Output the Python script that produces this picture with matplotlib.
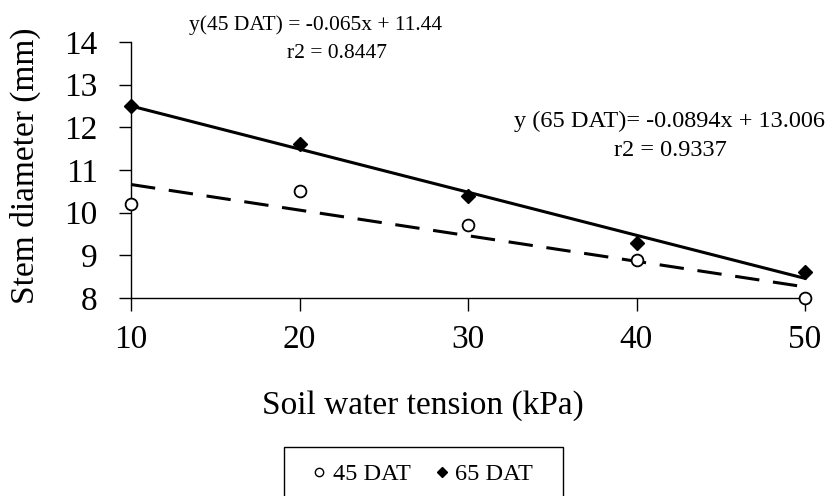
import numpy as np
import matplotlib.pyplot as plt
from matplotlib.lines import Line2D
from matplotlib.patches import Rectangle

plt.rcParams['font.family'] = ['Liberation Serif', 'DejaVu Serif']

# Data
tension = [10, 20, 30, 40, 50]
dat45 = [10.2, 10.5, 9.7, 8.9, 8.0]
dat65 = [12.5, 11.6, 10.4, 9.3, 8.6]

eq45 = "y(45 DAT) = -0.065x + 11.44"
r45 = "r2 = 0.8447"
eq65 = "y (65 DAT)= -0.0894x + 13.006"
r65 = "r2 = 0.9337"

W, H = 834, 496
fig = plt.figure(figsize=(W / 100, H / 100), dpi=100)
ax = fig.add_axes([131 / W, 1 - 298 / H, 674 / W, 256 / H])

x = np.array(tension)
# linear trend lines fitted to each series
p45 = np.polyfit(x, dat45, 1)
p65 = np.polyfit(x, dat65, 1)
xl = np.array([10, 50])
ax.plot(xl, np.polyval(p65, xl), color='black', lw=2.2, zorder=2, clip_on=False)
ax.plot(xl, np.polyval(p45, xl), color='black', lw=2.2, ls=(0, (8, 4.5)), zorder=2, clip_on=False)

ax.plot(x, dat45, ls='none', marker='o', ms=8.5, mfc='white', mec='black', mew=1.3,
        zorder=3, clip_on=False)
ax.plot(x, dat65, ls='none', marker='D', ms=7, mfc='black', mec='black', zorder=3,
        clip_on=False)

ax.set_xlim(10, 50)
ax.set_ylim(8, 14)
ax.set_xticks([10, 20, 30, 40, 50])
ax.set_yticks(range(8, 15))
for s in ['top', 'right']:
    ax.spines[s].set_visible(False)
ax.spines['left'].set_linewidth(1.0)
ax.spines['bottom'].set_linewidth(1.0)
ax.tick_params(axis='both', direction='out', length=9, width=1.0)
ax.tick_params(axis='y', labelsize=24, pad=15)
ax.tick_params(axis='x', labelsize=24, pad=10)

ax.set_ylabel('Stem diameter (mm)', fontsize=24, va='center')
ax.yaxis.set_label_coords((25 - 131) / 674, (298 - 166) / 256)
ax.set_xlabel('Soil water tension (kPa)', fontsize=24, va='center')
ax.xaxis.set_label_coords((423 - 131) / 674, (298 - 406) / 256)

fig.text(316 / W, 1 - 25 / H, eq45, ha='center', va='center', fontsize=15.5)
fig.text(337 / W, 1 - 54 / H, r45, ha='center', va='center', fontsize=15.5)
fig.text(669 / W, 1 - 121 / H, eq65, ha='center', va='center', fontsize=17.5)
fig.text(670 / W, 1 - 151 / H, r65, ha='center', va='center', fontsize=17.5)

# legend box (open at the bottom edge of the image)
fig.patches.append(Rectangle((284 / W, -0.02), (563 - 284) / W, 0.02 + 49 / H,
                             transform=fig.transFigure, fill=False, edgecolor='black',
                             lw=1.0))
handles = [
    Line2D([], [], ls='none', marker='o', ms=6, mfc='white', mec='black', mew=1.0),
    Line2D([], [], ls='none', marker='D', ms=5.5, mfc='black', mec='black'),
]
fig.legend(handles, ['45 DAT', '65 DAT'], loc='center left',
           bbox_to_anchor=(310 / W, 1 - 474 / H), borderaxespad=0, borderpad=0, ncol=2,
           fontsize=17.5, frameon=False, handlelength=0.74, handletextpad=0.2,
           columnspacing=0.9)

fig.savefig('out.png', dpi=100)
